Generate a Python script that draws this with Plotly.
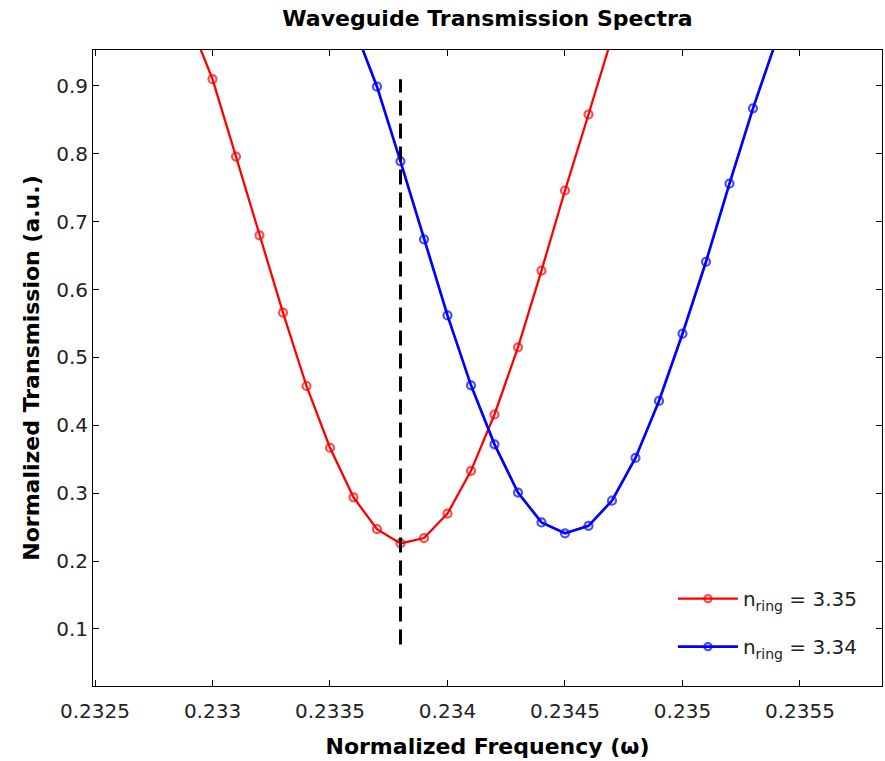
import plotly.graph_objects as go

# Normalized frequency samples (first/last points only extend the curve past the frame)
freq_a = [0.2329, 0.2330, 0.2331, 0.2332, 0.2333, 0.2334, 0.2335, 0.2336, 0.2337,
          0.2338, 0.2339, 0.2340, 0.2341, 0.2342, 0.2343, 0.2344, 0.2345, 0.2346, 0.2347]
trans_a = [0.997, 0.910, 0.796, 0.680, 0.566, 0.458, 0.367, 0.294, 0.247,
           0.226, 0.234, 0.270, 0.333, 0.416, 0.515, 0.628, 0.746, 0.858, 0.972]

freq_b = [0.2336, 0.2337, 0.2338, 0.2339, 0.2340, 0.2341, 0.2342, 0.2343, 0.2344,
          0.2345, 0.2346, 0.2347, 0.2348, 0.2349, 0.2350, 0.2351, 0.2352, 0.2353, 0.2354]
trans_b = [0.989, 0.899, 0.789, 0.674, 0.562, 0.459, 0.372, 0.301, 0.257,
           0.241, 0.252, 0.289, 0.352, 0.436, 0.535, 0.641, 0.756, 0.867, 0.968]

labels = ["n<sub>ring</sub> = 3.35", "n<sub>ring</sub> = 3.34"]

# resonance marker of the first ring
res_freq = 0.2338
res_span = [0.077, 0.910]

x_ticks = [0.2325, 0.233, 0.2335, 0.234, 0.2345, 0.235, 0.2355]
x_ticktext = ["0.2325", "0.233", "0.2335", "0.234", "0.2345", "0.235", "0.2355"]
y_ticks = [0.1, 0.2, 0.3, 0.4, 0.5, 0.6, 0.7, 0.8, 0.9]

x_range = [0.2324915, 0.235849]
y_range = [0.016, 0.953]


def marker_sizes(n, size):
    # no marker on the two extension points
    return [0] + [size] * (n - 2) + [0]


fig = go.Figure()

for fx, ty, col, lab, width, grp in [
    (freq_a, trans_a, "#ff0000", labels[0], 2.3, "a"),
    (freq_b, trans_b, "#0000ff", labels[1], 2.7, "b"),
]:
    fig.add_trace(go.Scatter(
        x=fx, y=ty, mode="lines+markers", name=lab, legendgroup=grp,
        line=dict(color=col, width=width),
        marker=dict(symbol="circle-open", size=marker_sizes(len(fx), 8),
                    color=col, line=dict(width=2.2, color=col)),
        cliponaxis=True,
    ))

fig.add_trace(go.Scatter(
    x=[res_freq, res_freq], y=res_span, mode="lines", showlegend=False,
    line=dict(color="black", width=3, dash="15px,8px"),
))

axis_common = dict(
    showline=True, linecolor="black", linewidth=1, mirror="ticks",
    ticks="inside", ticklen=6, tickcolor="black", tickwidth=1,
    showgrid=False, zeroline=False,
    tickfont=dict(family="DejaVu Sans", size=20, color="#222222"),
)

fig.update_xaxes(
    range=x_range, tickvals=x_ticks, ticktext=x_ticktext, ticklabelstandoff=7,
    title=dict(text="Normalized Frequency (\u03c9)", standoff=16,
               font=dict(family="DejaVu Sans", size=22, color="black", weight="bold")),
    **axis_common,
)
fig.update_yaxes(
    range=y_range, tickvals=y_ticks, tickformat=".1f",
    title=dict(text="Normalized Transmission (a.u.)", standoff=10,
               font=dict(family="DejaVu Sans", size=22, color="black", weight="bold")),
    **axis_common,
)

fig.update_layout(
    width=885, height=761,
    margin=dict(l=93, r=3, t=50, b=75),
    paper_bgcolor="white", plot_bgcolor="white",
    title=dict(text="<b>Waveguide Transmission Spectra</b>", x=(93 + 882) / 2 / 885,
               xanchor="center", y=1 - 18 / 761, yanchor="middle",
               font=dict(family="DejaVu Sans", size=22, color="black")),
    legend=dict(
        x=0.735, xanchor="left", y=0.168, yanchor="top",
        bgcolor="rgba(0,0,0,0)", borderwidth=0,
        font=dict(family="DejaVu Sans", size=20, color="#222222"),
        itemwidth=60, tracegroupgap=19,
    ),
)

fig.write_html("out.html")
